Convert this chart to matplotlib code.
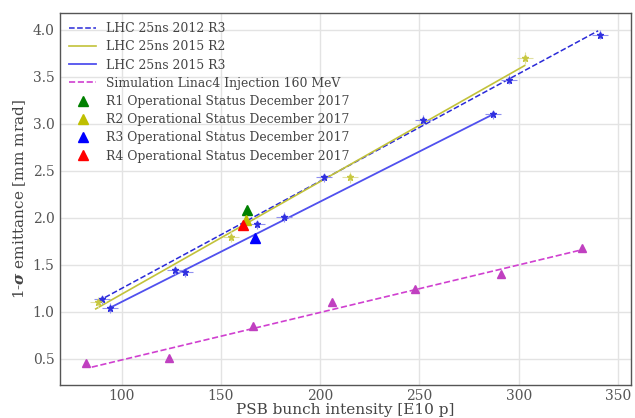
import matplotlib
matplotlib.use("Agg")
import matplotlib.pyplot as plt

# LHC 25ns 2012 R3 measurements and fit
r3_2012_x = [90, 168, 202, 252, 295, 341]
r3_2012_y = [1.13, 1.93, 2.43, 3.04, 3.47, 3.95]
r3_2012_fit_x = [88, 340]
r3_2012_fit_y = [1.11, 3.99]

# LHC 25ns 2015 R2
r2_2015_x = [88, 155, 215, 303]
r2_2015_y = [1.10, 1.80, 2.43, 3.70]
r2_2015_fit_x = [87, 303]
r2_2015_fit_y = [1.03, 3.62]

# LHC 25ns 2015 R3
r3_2015_x = [94, 127, 132, 182, 287]
r3_2015_y = [1.04, 1.44, 1.42, 2.01, 3.10]
r3_2015_fit_x = [94, 287]
r3_2015_fit_y = [1.04, 3.10]

# Simulation Linac4 injection 160 MeV
sim_x = [82, 124, 166, 206, 248, 291, 332]
sim_y = [0.45, 0.51, 0.85, 1.10, 1.24, 1.40, 1.68]
sim_fit_x = [85, 332]
sim_fit_y = [0.41, 1.66]

# operational status December 2017
ops_labels = ["R1", "R2", "R3", "R4"]
ops_colors = ["green", "y", "b", "r"]
ops_x = [163, 162.5, 167, 161]
ops_y = [2.08, 1.98, 1.78, 1.92]

plt.rcParams['font.family'] = ['DejaVu Serif']
plt.rcParams['mathtext.fontset'] = 'dejavuserif'

fig = plt.figure(figsize=(6.35, 4.18), dpi=100)
ax = fig.add_axes([0.0945, 0.079, 0.899, 0.89])

ax.grid(True, color='#e3e3e3', linewidth=1)
ax.set_axisbelow(True)
for s in ax.spines.values():
    s.set_color('#555555')
    s.set_linewidth(1.0)
ax.tick_params(length=0, labelsize=10, labelcolor='#555555', pad=4)
ax.tick_params(axis='x', pad=3)

# fitted lines
ax.plot(r3_2012_fit_x, r3_2012_fit_y, '--', color='#2a2ad8', lw=1.1, label='LHC 25ns 2012 R3')
ax.plot(r2_2015_fit_x, r2_2015_fit_y, '-', color='#c2c23a', lw=1.2, label='LHC 25ns 2015 R2')
ax.plot(r3_2015_fit_x, r3_2015_fit_y, '-', color='#5050ee', lw=1.3, label='LHC 25ns 2015 R3')
ax.plot(sim_fit_x, sim_fit_y, '--', color='#d040d0', lw=1.2,
        label='Simulation Linac4 Injection 160 MeV')

# measurements with error bars
ax.errorbar(r3_2012_x, r3_2012_y, xerr=4, yerr=0.05, fmt='*', color='#3030e0',
            ms=4.5, elinewidth=0.8, ecolor='#9090f0', capsize=0)
ax.errorbar(r2_2015_x, r2_2015_y, xerr=4, yerr=0.06, fmt='*', color='#c8c840',
            ms=4.5, elinewidth=0.8, ecolor='#e0e0a0', capsize=0)
ax.errorbar(r3_2015_x, r3_2015_y, xerr=4, yerr=0.05, fmt='*', color='#3030e0',
            ms=4.5, elinewidth=0.8, ecolor='#9090f0', capsize=0)
ax.plot(sim_x, sim_y, '^', color='#c040c0', ms=5.5)

for lab, c, x, y in zip(ops_labels, ops_colors, ops_x, ops_y):
    ax.plot([x], [y], '^', color=c, ms=6.5, ls='none',
            label=lab + ' Operational Status December 2017')

ax.set_xlim(69, 356.5)
ax.set_ylim(0.22, 4.18)
ax.set_xticks([100, 150, 200, 250, 300, 350])
ax.set_yticks([0.5, 1.0, 1.5, 2.0, 2.5, 3.0, 3.5, 4.0])

ax.set_xlabel('PSB bunch intensity [E10 p]', fontsize=11, color='#444444', labelpad=0)
ax.set_ylabel(r'1-$\boldsymbol{\sigma}$ emittance [mm mrad]', fontsize=11,
              color='#444444', labelpad=3)

leg = ax.legend(loc='upper left', fontsize=8.9, frameon=False,
                borderaxespad=0.35, handlelength=2.2, handletextpad=0.8,
                labelspacing=0.42)
for t in leg.get_texts():
    t.set_color('#444444')

fig.savefig('out.png', dpi=100)
